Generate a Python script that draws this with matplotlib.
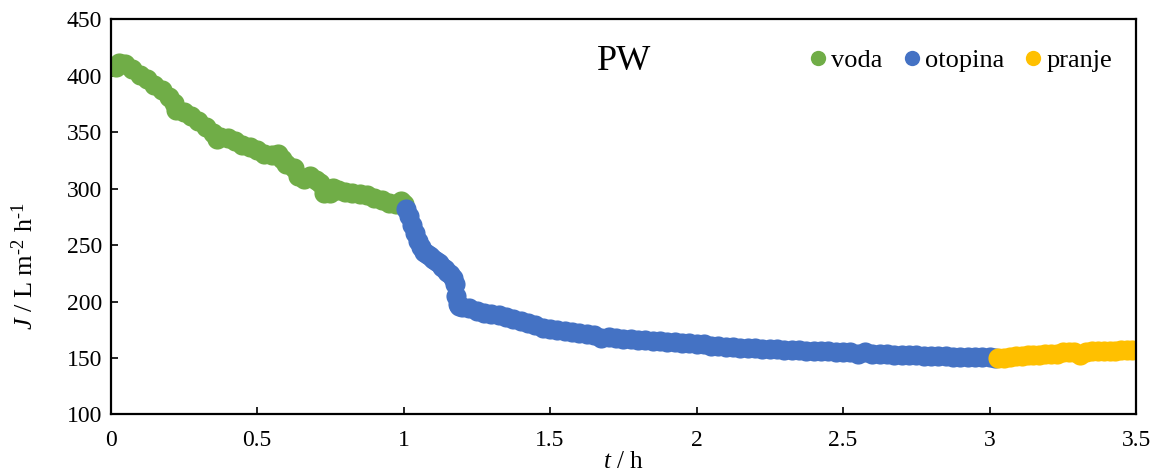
import matplotlib.pyplot as plt

# flux readings, t in h, J in L m-2 h-1
voda_t = [0.02, 0.03, 0.05, 0.075, 0.10, 0.125, 0.15, 0.175, 0.20, 0.215,
          0.225, 0.25, 0.275, 0.30, 0.325, 0.35, 0.365, 0.375, 0.40, 0.425,
          0.45, 0.475, 0.50, 0.525, 0.55, 0.57, 0.585, 0.60, 0.625, 0.64,
          0.66, 0.68, 0.70, 0.715, 0.73, 0.75, 0.76, 0.775, 0.80, 0.825,
          0.85, 0.875, 0.90, 0.925, 0.95, 0.975, 0.99, 1.00]
voda_J = [408, 411, 410, 406, 401, 397, 392, 387, 381, 376,
          370, 368, 364, 360, 355, 349, 344, 346, 345, 342,
          339, 337, 334, 331, 330, 331, 326, 322, 318, 311,
          309, 311, 308, 305, 296, 296, 301, 299, 297, 296,
          295, 294, 292, 290, 287, 286, 289, 286]

otopina_t = [1.01, 1.02, 1.03, 1.04, 1.05, 1.06, 1.07, 1.08, 1.09, 1.10,
             1.11, 1.12, 1.13, 1.14, 1.15, 1.16, 1.17, 1.175, 1.18, 1.185,
             1.19, 1.20, 1.225, 1.25, 1.275, 1.30, 1.325, 1.35, 1.375, 1.40,
             1.425, 1.45, 1.475, 1.50, 1.525, 1.55, 1.575, 1.60, 1.625, 1.65,
             1.675, 1.70, 1.725, 1.75, 1.775, 1.80, 1.825, 1.85, 1.875, 1.90,
             1.925, 1.95, 1.975, 2.00, 2.025, 2.05, 2.075, 2.10, 2.125, 2.15,
             2.175, 2.20, 2.225, 2.25, 2.275, 2.30, 2.325, 2.35, 2.375, 2.40,
             2.425, 2.45, 2.475, 2.50, 2.525, 2.55, 2.575, 2.60, 2.625, 2.65,
             2.675, 2.70, 2.725, 2.75, 2.775, 2.80, 2.825, 2.85, 2.875, 2.90,
             2.925, 2.95, 2.975, 3.00, 3.02]
otopina_J = [282, 276, 268, 261, 254, 248, 244, 242, 240, 238,
             236, 234, 231, 229, 226, 224, 221, 216, 205, 198,
             196, 195, 194, 192, 190, 189, 188, 186, 185, 183,
             181, 179, 177, 176, 175, 174, 173, 172, 171, 170,
             168, 169, 168, 167, 167, 166, 166, 165, 165, 164,
             164, 163, 163, 162, 162, 161, 161, 160, 160, 159,
             159, 159, 158, 158, 158, 157, 157, 157, 156, 156,
             156, 156, 155, 155, 155, 154, 155, 154, 154, 154,
             153, 153, 153, 153, 152, 152, 152, 152, 151, 151,
             151, 151, 151, 151, 150]

pranje_t = [3.03, 3.05, 3.07, 3.09, 3.11, 3.13, 3.15, 3.17, 3.19, 3.21,
            3.23, 3.25, 3.27, 3.29, 3.31, 3.33, 3.35, 3.37, 3.39, 3.41,
            3.43, 3.45, 3.47, 3.485]
pranje_J = [150, 150, 151, 152, 152, 153, 153, 153, 154, 154,
            154, 155, 155, 155, 153, 155, 156, 156, 156, 156,
            156, 157, 157, 157]

series = [("voda", voda_t, voda_J, "#70AD47"),
          ("otopina", otopina_t, otopina_J, "#4472C4"),
          ("pranje", pranje_t, pranje_J, "#FFC000")]

plt.rcParams['font.family'] = ['Liberation Serif', 'DejaVu Serif']
plt.rcParams['mathtext.fontset'] = 'custom'
plt.rcParams['mathtext.rm'] = 'Liberation Serif'
plt.rcParams['mathtext.it'] = 'Liberation Serif:italic'

fig = plt.figure(figsize=(11.56, 4.71), dpi=100)
ax = fig.add_axes([0.0956, 0.12, 0.8871, 0.839])

for name, t, J, col in series:
    ax.plot(t, J, 'o', color=col, markersize=14.5, markeredgewidth=0, label=name)

ax.set_xlim(0, 3.5)
ax.set_ylim(100, 450)
ax.set_xticks([0, 0.5, 1, 1.5, 2, 2.5, 3, 3.5])
ax.set_xticklabels(['0', '0.5', '1', '1.5', '2', '2.5', '3', '3.5'])
ax.set_yticks(range(100, 451, 50))

for s in ax.spines.values():
    s.set_linewidth(1.6)
ax.tick_params(direction='in', length=5, width=1.2, labelsize=17)
ax.tick_params(axis='x', pad=11)
ax.tick_params(axis='y', pad=6)

ax.set_xlabel('$t$ / h', fontsize=18, labelpad=0)
ax.set_ylabel(r'$J$ / L m$^{\text{-2}}$ h$^{\text{-1}}$', fontsize=19)
ax.yaxis.set_label_coords(-0.0705, 0.376)

ax.text(0.501, 0.892, 'PW', transform=ax.transAxes, fontsize=26,
        ha='center', va='center')

ax.legend(loc='upper right', bbox_to_anchor=(1.0, 0.985), ncol=3, frameon=False,
          fontsize=19, markerscale=0.76, handletextpad=-0.1, columnspacing=0.5,
          handlelength=1.2)

fig.savefig('out.png', dpi=100)
